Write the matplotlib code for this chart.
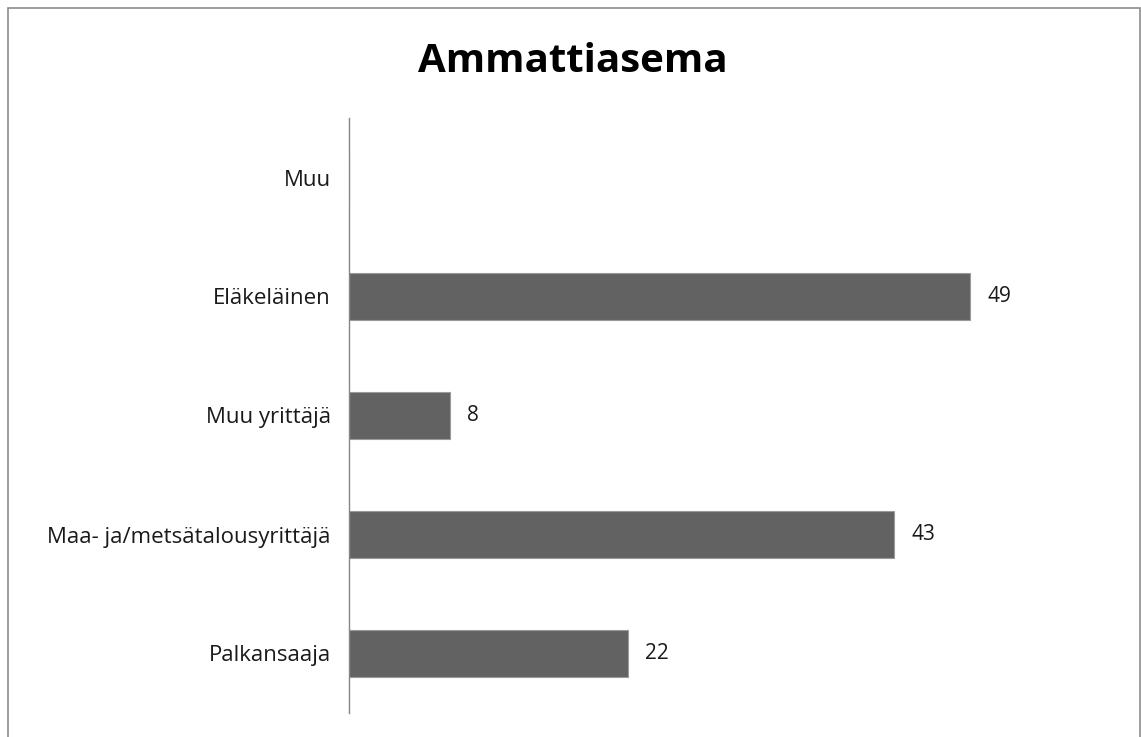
import matplotlib.pyplot as plt
from matplotlib.patches import Rectangle

# category order from top to bottom
categories = ["Muu", "Eläkeläinen", "Muu yrittäjä", "Maa- ja/metsätalousyrittäjä", "Palkansaaja"]
counts = [None, 49, 8, 43, 22]
title = "Ammattiasema"

W, H = 1141, 737
plt.rcParams['font.family'] = ['Open Sans', 'DejaVu Sans']

fig = plt.figure(figsize=(W / 100, H / 100), dpi=100)
fig.patch.set_facecolor("white")

# chart frame
fig.add_artist(Rectangle((8 / W, -0.01), (1140 - 8) / W, 1.01 - 8 / H,
                         transform=fig.transFigure, fill=False,
                         edgecolor="#8c8c8c", linewidth=1.2))

ax = fig.add_axes([349 / W, 1 - 713 / H, (1110 - 349) / W, (713 - 118) / H])

ypos = list(range(len(categories)))
vals = [0 if v is None else v for v in counts]
ax.barh(ypos, vals, height=0.395, color="#626262", edgecolor="#9a9a9a", linewidth=0.8)

for y, v in zip(ypos, counts):
    if v is None:
        continue
    ax.annotate(str(v), (v, y), xytext=(12, 0), textcoords="offset points",
                ha="left", va="center", fontsize=15, color="#1a1a1a")

ax.set_xlim(0, 60)
ax.set_ylim(len(categories) - 0.5, -0.5)
ax.set_yticks(ypos)
ax.set_yticklabels(categories, fontsize=16, color="#1a1a1a")
ax.tick_params(axis="y", length=0, pad=13)
ax.set_xticks([])
for side in ["top", "right", "bottom"]:
    ax.spines[side].set_visible(False)
ax.spines["left"].set_color("#868686")
ax.spines["left"].set_linewidth(1.0)

fig.text(573 / W, 1 - 72 / H, title, ha="center", va="baseline",
         fontsize=29, fontweight="bold", color="#000000")

fig.savefig("out.png", dpi=100)
